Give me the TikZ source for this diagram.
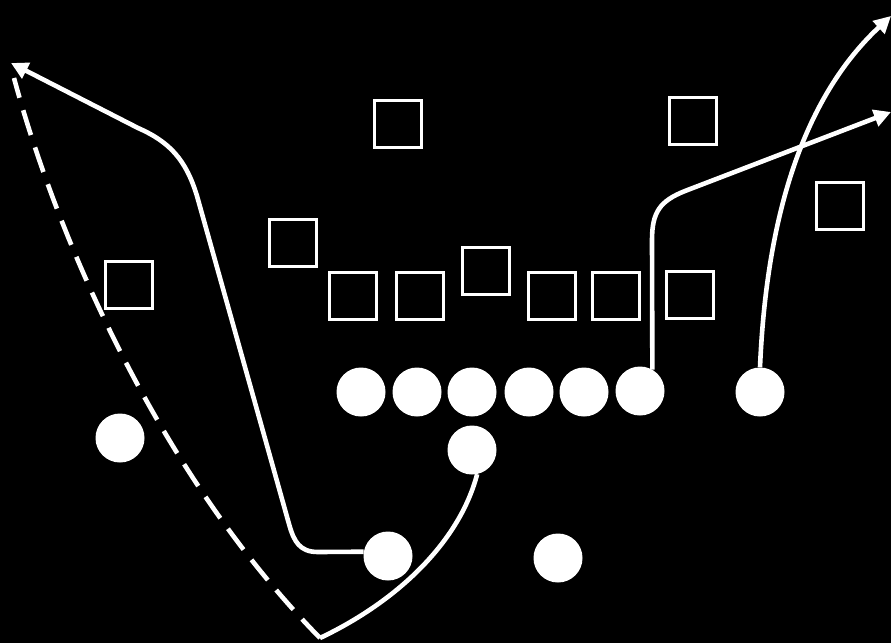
\documentclass[tikz,border=0pt]{standalone}
\usetikzlibrary{arrows.meta}
\begin{document}
\begin{tikzpicture}[x=1pt,y=-1pt,
  sq/.style={draw=white,line width=3pt,minimum size=47pt,inner sep=0pt},
  pl/.style={circle,fill=white,minimum size=49pt,inner sep=0pt},
  route/.style={draw=white,line width=4.6pt},
  tip/.style={-{Triangle[length=17pt,width=17pt]}},
  dashroute/.style={draw=white,line width=4.6pt,dash pattern=on 26pt off 13pt}]
\fill[black] (0,0) rectangle (891,643);
\useasboundingbox (0,0) rectangle (891,643);
% defenders
\node[sq] (s1) at (398,124) {};
\node[sq] (s2) at (693,121) {};
\node[sq] (s3) at (840,206) {};
\node[sq] (s4) at (293,243) {};
\node[sq] (s5) at (129,285) {};
\node[sq] (s6) at (353,296) {};
\node[sq] (s7) at (420,296) {};
\node[sq] (s8) at (486,271) {};
\node[sq] (s9) at (552,296) {};
\node[sq] (s10) at (616,296) {};
\node[sq] (s11) at (690,295) {};
% offense
\node[pl] (o1) at (361,392) {};
\node[pl] (o2) at (417,392) {};
\node[pl] (o3) at (472,392) {};
\node[pl] (o4) at (529,392) {};
\node[pl] (o5) at (584,392) {};
\node[pl] (o6) at (640,391) {};
\node[pl] (o7) at (760,392) {};
\node[pl] (b1) at (120,438) {};
\node[pl] (b2) at (472,450) {};
\node[pl] (b3) at (388,556) {};
\node[pl] (b4) at (558,558) {};
% coordinates
\coordinate (tipL) at (11,63);
\coordinate (dashTop) at (14,78);
\coordinate (vtx) at (320,638);
\coordinate (tipR1) at (891,112);
\coordinate (tipR2) at (891,16);
% routes
\draw[route,tip] (b3.170) -- (318,552) .. controls (300,552) and (294,542) .. (289,524)
  -- (197,196) .. controls (186,160) and (170,142) .. (138,128) -- (tipL);
\draw[route] (b2.-78) .. controls (460,540) and (400,600) .. (vtx);
\draw[dashroute] (vtx) .. controls (155,470) and (55,230) .. (dashTop);
\draw[route,tip] (o6.60) -- (652,240) .. controls (652,212) and (660,201) .. (685,191) -- (tipR1);
\draw[route,tip] (o7.north) .. controls (765,250) and (790,110) .. (tipR2);
\end{tikzpicture}
\end{document}
